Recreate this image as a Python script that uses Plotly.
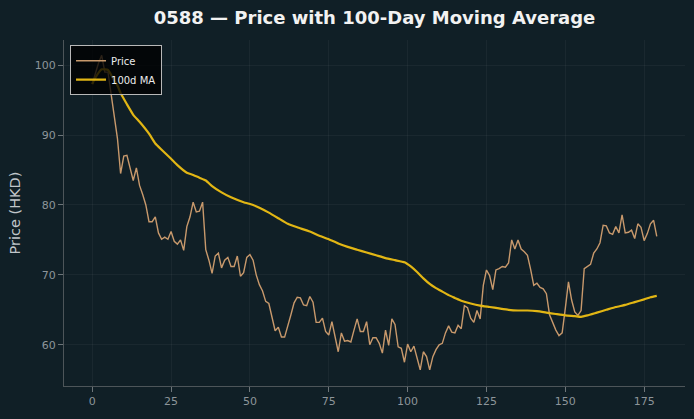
import plotly.graph_objects as go

# Daily closing price (HKD), day index 0..179
price = [
    97.3, 99.0, 100.3, 101.4, 99.0, 99.0, 95.8, 92.5, 89.5, 84.5,
    87.0, 87.1, 85.3, 83.5, 85.3, 82.8, 81.5, 80.0, 77.6, 77.6,
    78.3, 76.0, 75.1, 75.4, 75.1, 76.2, 74.8, 74.4, 75.0, 73.5,
    76.9, 78.3, 80.4, 79.0, 79.1, 80.4, 73.6, 72.1, 70.2, 72.7,
    73.1, 71.0, 72.1, 72.5, 71.2, 71.2, 72.7, 69.8, 70.3, 72.5,
    72.9, 72.1, 70.0, 68.6, 67.7, 66.2, 65.9, 63.8, 62.0, 62.5,
    61.1, 61.1, 62.6, 64.3, 66.0, 66.8, 66.7, 65.7, 65.6, 66.9,
    66.1, 63.2, 63.2, 63.8, 61.9, 61.4, 63.3, 61.0, 59.0, 61.7,
    60.5, 60.6, 60.4, 62.1, 63.7, 61.9, 61.9, 63.3, 60.0, 61.0,
    61.0, 60.2, 58.8, 62.1, 59.9, 63.7, 62.9, 59.7, 59.5, 57.5,
    60.1, 59.0, 59.8, 58.1, 56.4, 59.0, 58.3, 56.4, 58.3, 59.3,
    60.0, 60.2, 61.7, 62.7, 61.8, 61.7, 62.8, 62.3, 65.6, 65.3,
    63.8, 63.2, 64.9, 63.7, 68.5, 70.7, 69.9, 67.9, 70.7, 70.9,
    71.2, 71.1, 71.7, 75.0, 73.7, 75.0, 73.7, 73.3, 72.8, 70.8,
    68.5, 68.8, 68.2, 68.0, 67.3, 64.3, 63.1, 62.1, 61.3, 61.7,
    65.2, 69.0, 66.4, 64.7, 64.2, 64.9, 70.9, 71.2, 71.5, 73.1,
    73.7, 74.6, 77.1, 77.0, 76.0, 75.8, 76.9, 76.0, 78.6, 76.0,
    76.1, 76.4, 75.2, 77.3, 76.8, 74.9, 75.9, 77.3, 77.8, 75.5,
]
days = list(range(len(price)))

# 100-day moving average
ma_days = [0, 1, 3, 5, 6, 7, 8, 9, 10, 11, 13, 15, 18, 20, 22, 25, 27, 30, 32, 34,
           36, 38, 41, 44, 48, 51, 53, 56, 59, 62, 65, 69, 72, 75, 78, 81, 84, 87, 90, 93,
           96, 99, 101, 103, 105, 107, 109, 111, 113, 115, 117, 120, 123, 126, 129, 132,
           135, 138, 141, 144, 147, 150, 153, 155, 157, 160, 163, 166, 169, 172, 175, 177, 179]
ma_values = [97.3, 98.2, 99.4, 99.3, 98.6, 97.8, 97.1, 96.0, 95.2, 94.4, 92.9, 91.9, 90.2, 88.8,
             87.9, 86.6, 85.7, 84.6, 84.3, 83.9, 83.5, 82.7, 81.8, 81.1, 80.4, 80.0, 79.6,
             78.9, 78.1, 77.3, 76.8, 76.2, 75.6, 75.1, 74.5, 74.0, 73.6, 73.2, 72.8, 72.4,
             72.1, 71.8, 71.2, 70.4, 69.5, 68.7, 68.1, 67.6, 67.1, 66.7, 66.3, 65.9, 65.6,
             65.4, 65.2, 65.0, 64.9, 64.9, 64.8, 64.6, 64.4, 64.2, 64.1, 64.0, 64.2, 64.6,
             65.0, 65.4, 65.7, 66.1, 66.5, 66.8, 67.0]

x_ticks = [0, 25, 50, 75, 100, 125, 150, 175]
y_ticks = [60, 70, 80, 90, 100]

BG = "#101f26"
FONT = "DejaVu Sans"

fig = go.Figure()
fig.add_trace(go.Scatter(x=days, y=price, mode="lines", name="Price",
                         line=dict(color="#c8996c", width=1.4)))
fig.add_trace(go.Scatter(x=ma_days, y=ma_values, mode="lines", name="100d MA",
                         line=dict(color="#e2b614", width=2.2, shape="spline", smoothing=0.4)))

fig.update_layout(
    width=694, height=419, autosize=False,
    margin=dict(l=64, r=9, t=40, b=33, pad=0),
    paper_bgcolor=BG, plot_bgcolor=BG,
    font=dict(family=FONT, color="#8d959a", size=11),
    title=dict(text="0588 — Price with 100-Day Moving Average",
               x=0.5, xref="paper", xanchor="center",
               y=1 - 18 / 419, yref="container", yanchor="middle",
               font=dict(family=FONT, size=18, color="#f2f2f2", weight="bold")),
    legend=dict(x=0.0097, y=0.985, xanchor="left", yanchor="top",
                bgcolor="rgba(0,0,0,0.78)", bordercolor="#b8b8b8", borderwidth=1,
                itemwidth=30, tracegroupgap=0,
                font=dict(family=FONT, size=10, color="#ececec")),
    showlegend=True,
)
fig.update_xaxes(range=[-8.95, 187.95], tickvals=x_ticks, ticks="outside", ticklen=5,
                 tickcolor="#6d7579", showline=True, linecolor="#4d5559", linewidth=1,
                 showgrid=True, gridcolor="rgba(255,255,255,0.045)", zeroline=False,
                 tickfont=dict(family=FONT, size=11, color="#8d959a"))
fig.update_yaxes(range=[54.1, 103.6], tickvals=y_ticks, ticks="outside", ticklen=5,
                 tickcolor="#6d7579", showline=True, linecolor="#4d5559", linewidth=1,
                 showgrid=True, gridcolor="rgba(255,255,255,0.045)", zeroline=False,
                 tickfont=dict(family=FONT, size=11, color="#8d959a"),
                 title=dict(text="Price (HKD)", standoff=10,
                            font=dict(family=FONT, size=14.5, color="#c0c6ca")))

fig.write_html("out.html")
